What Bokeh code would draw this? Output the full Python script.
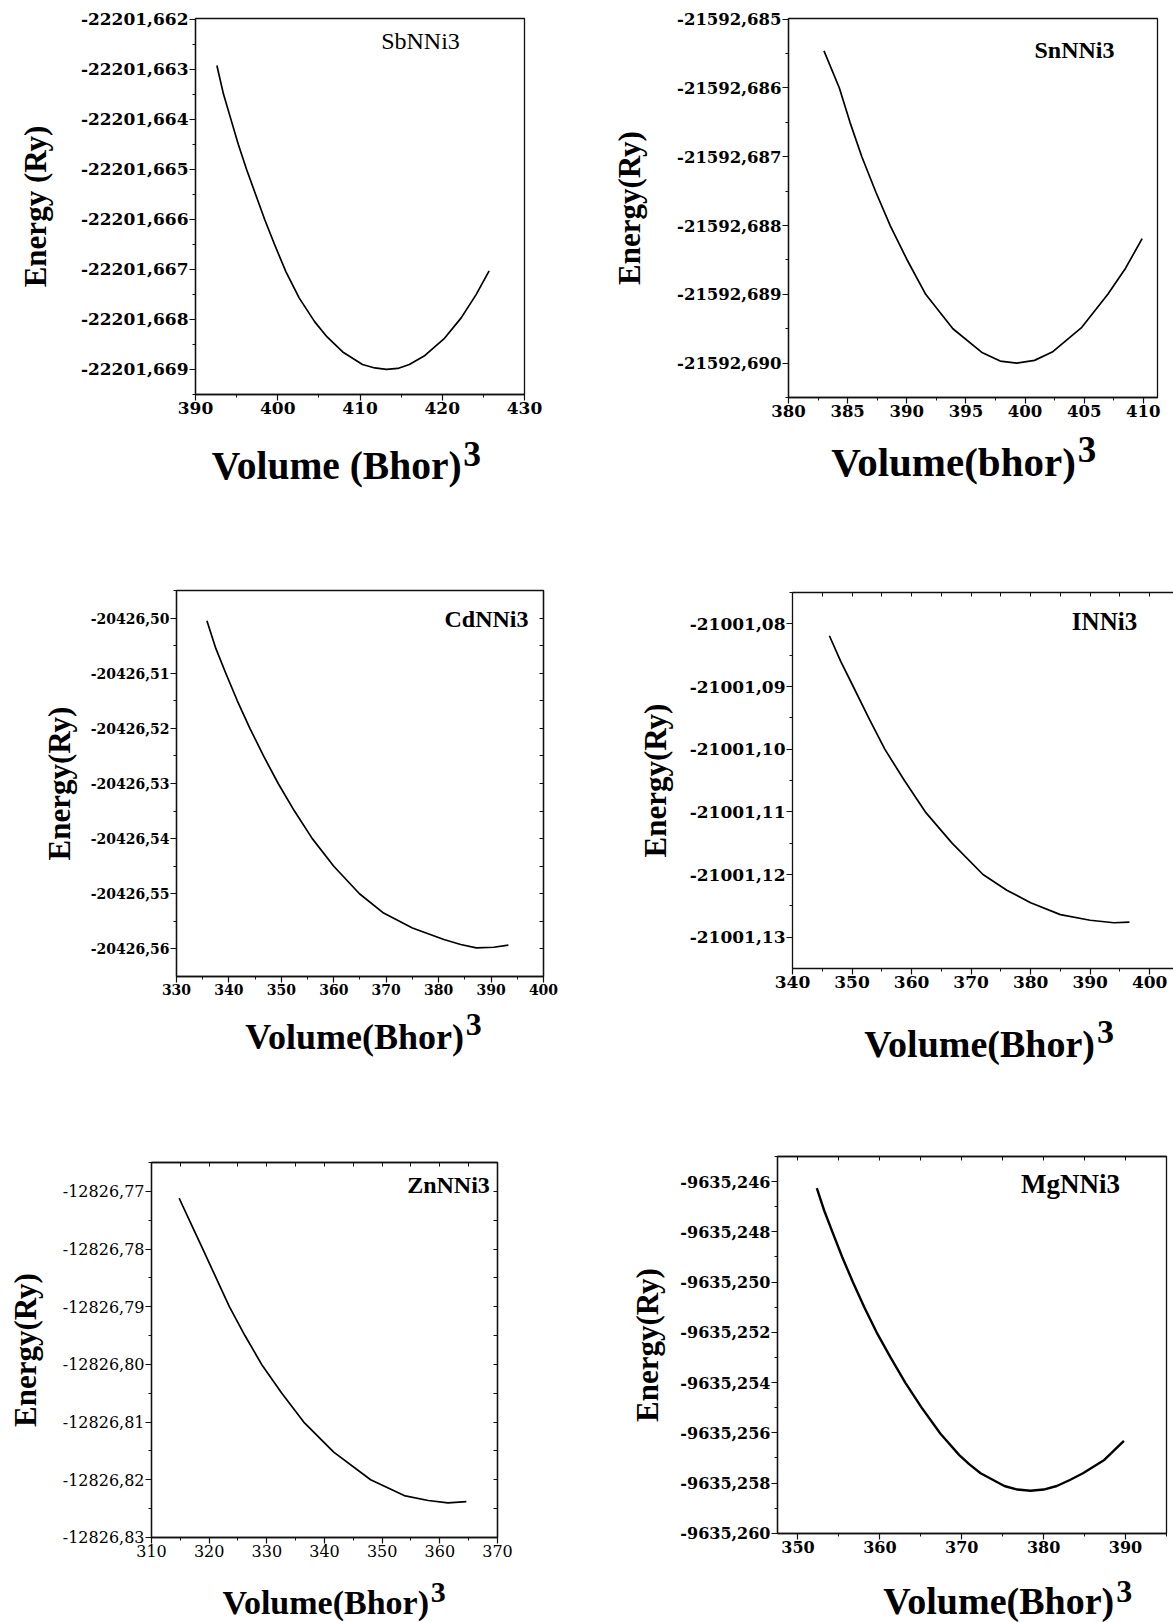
import math
from bokeh.plotting import figure
from bokeh.layouts import column, row
from bokeh.models import (SingleIntervalTicker, LinearAxis, Label, Range1d,
                          CustomJSTickFormatter)
from bokeh.embed import file_html
from bokeh.resources import INLINE

# ---------------- data ----------------
sb_volume = [392.6, 393.4, 394.3, 395.2, 396.2, 397.3, 398.4, 399.6, 401.0, 402.6,
             404.5, 406.0, 407.9, 410.3, 411.8, 413.2, 414.6, 416.0, 417.9, 420.2,
             422.3, 424.1, 425.7]
sb_energy = [-22201.66293, -22201.66350, -22201.66400, -22201.66450, -22201.66500,
             -22201.66550, -22201.66600, -22201.66650, -22201.66705, -22201.66757,
             -22201.66805, -22201.66835, -22201.66865, -22201.66890, -22201.66897,
             -22201.66900, -22201.66898, -22201.66890, -22201.66872, -22201.66839,
             -22201.66797, -22201.66751, -22201.66703]

sn_volume = [383.0, 384.3, 385.2, 386.2, 387.4, 388.6, 390.0, 391.6, 393.9, 396.4,
             397.9, 399.3, 400.8, 402.3, 404.8, 407.0, 408.5, 409.9]
sn_energy = [-21592.68546, -21592.68600, -21592.68650, -21592.68700, -21592.68752,
             -21592.68800, -21592.68849, -21592.68900, -21592.68950, -21592.68985,
             -21592.68997, -21592.69000, -21592.68996, -21592.68984, -21592.68948,
             -21592.68900, -21592.68862, -21592.68819]

cd_volume = [335.8, 337.5, 339.4, 341.6, 344.0, 346.6, 349.4, 352.5, 355.9, 360.0,
             364.9, 369.5, 375.0, 381.0, 384.2, 387.2, 390.5, 393.3]
cd_energy = [-20426.5005, -20426.5055, -20426.5100, -20426.5150, -20426.5200,
             -20426.5250, -20426.5300, -20426.5350, -20426.5400, -20426.5450,
             -20426.5500, -20426.5535, -20426.5562, -20426.5583, -20426.5592,
             -20426.5598, -20426.5597, -20426.5593]

i_volume = [346.2, 348.1, 350.2, 352.8, 355.5, 358.8, 362.3, 366.8, 372.0, 376.0,
            380.0, 385.0, 390.0, 394.0, 396.6]
i_energy = [-21001.0819, -21001.0860, -21001.0900, -21001.0950, -21001.1000,
            -21001.1050, -21001.1100, -21001.1150, -21001.1200, -21001.1225,
            -21001.1245, -21001.1264, -21001.1273, -21001.1277, -21001.1276]

zn_volume = [314.8, 316.8, 318.9, 321.2, 323.5, 326.2, 329.1, 332.6, 336.4, 341.6,
             348.0, 354.0, 358.0, 361.4, 364.6]
zn_energy = [-12826.7712, -12826.7755, -12826.7800, -12826.7850, -12826.7900,
             -12826.7950, -12826.8000, -12826.8050, -12826.8100, -12826.8152,
             -12826.8200, -12826.8228, -12826.8236, -12826.8240, -12826.8238]

mg_volume = [352.3, 353.2, 354.2, 355.4, 356.7, 358.1, 359.6, 361.3, 363.1, 365.1,
             367.4, 369.7, 370.9, 372.3, 375.2, 376.8, 378.4, 380.0, 381.6, 383.2,
             384.8, 387.4, 389.8]
mg_energy = [-9635.24626, -9635.24715, -9635.24800, -9635.24900, -9635.25000,
             -9635.25100, -9635.25200, -9635.25300, -9635.25400, -9635.25500,
             -9635.25604, -9635.25689, -9635.25725, -9635.25761, -9635.25812,
             -9635.25826, -9635.25831, -9635.25826, -9635.25812, -9635.25788,
             -9635.25761, -9635.25708, -9635.25632]

compounds = ["SbNNi3", "SnNNi3", "CdNNi3", "INNi3", "ZnNNi3", "MgNNi3"]
x_titles = ["Volume (Bhor)", "Volume(bhor)", "Volume(Bhor)", "Volume(Bhor)",
            "Volume(Bhor)", "Volume(Bhor)"]
y_titles = ["Energy (Ry)", "Energy(Ry)", "Energy(Ry)", "Energy(Ry)",
            "Energy(Ry)", "Energy(Ry)"]

TICK_FONT = "DejaVu Serif"
TITLE_FONT = "Liberation Serif"
INK = "#111111"


def style_axis(ax, weight, size):
    ax.axis_line_color = INK
    ax.axis_line_width = 1.3
    ax.major_tick_line_color = INK
    ax.minor_tick_line_color = INK
    ax.major_tick_line_width = 1.2
    ax.minor_tick_line_width = 1.0
    ax.major_tick_out = 6
    ax.major_tick_in = 0
    ax.minor_tick_out = 3
    ax.minor_tick_in = 0
    ax.major_label_text_font = TICK_FONT
    ax.major_label_text_font_style = weight
    ax.major_label_text_font_size = f"{size}px"
    ax.major_label_text_color = "black"
    ax.major_label_standoff = 1


def make_panel(cfg):
    fx0, fy0, fx1, fy1 = cfg["frame"]          # frame box in canvas px
    cx0, cy0, cx1, cy1 = cfg["cell"]           # panel-figure box in canvas px
    xr0, xr1 = cfg["xr"]
    yr0, yr1 = cfg["yr"]
    fw, fh = fx1 - fx0, fy1 - fy0
    p = figure(width=cx1 - cx0, height=cy1 - cy0, title=None,
               min_border_left=fx0 - cx0, min_border_right=cx1 - fx1,
               min_border_top=fy0 - cy0, min_border_bottom=cy1 - fy1,
               x_range=Range1d(xr0, xr1), y_range=Range1d(yr0, yr1),
               output_backend="svg", toolbar_location=None)
    p.grid.visible = False
    p.background_fill_color = "white"
    p.border_fill_color = "white"
    if cfg.get("outline", True):
        p.outline_line_color = INK
        p.outline_line_width = 1.3
    else:
        p.outline_line_color = None

    weight = cfg.get("tick_weight", "bold")
    xa, ya = p.xaxis[0], p.yaxis[0]
    style_axis(xa, weight, cfg["tsize"])
    style_axis(ya, weight, cfg["tsize"])
    xa.ticker = SingleIntervalTicker(interval=cfg["xi"], num_minor_ticks=2)
    ya.ticker = SingleIntervalTicker(interval=cfg["yi"], num_minor_ticks=2)
    xa.formatter = CustomJSTickFormatter(code="return tick.toFixed(0);")
    ya.formatter = CustomJSTickFormatter(
        args=dict(d=cfg["yd"]), code="return tick.toFixed(d).replace('.', ',');")
    # rotated y title
    ya.axis_label = cfg["yt"]
    ya.axis_label_text_font = TITLE_FONT
    ya.axis_label_text_font_style = "bold"
    ya.axis_label_text_font_size = "31px"
    ya.axis_label_text_color = "black"
    ya.axis_label_standoff = cfg["ys"]

    # small ticks on the opposite sides
    for side in cfg.get("extra", []):
        iv = cfg["xi"] / 2 if side == "above" else cfg["yi"] / 2
        ax = LinearAxis(ticker=SingleIntervalTicker(interval=iv, num_minor_ticks=1),
                        formatter=CustomJSTickFormatter(code="return '';"))
        ax.axis_line_color = INK
        ax.axis_line_width = 1.3
        ax.major_tick_line_color = INK
        ax.major_tick_out = 0
        ax.major_tick_in = 4
        ax.minor_tick_line_color = None
        ax.major_label_text_font_size = "1px"
        ax.major_label_standoff = 0
        p.add_layout(ax, side)

    p.line(cfg["x"], cfg["y"], line_color="black", line_width=cfg.get("lw", 1.7),
           line_join="round")

    def dx(px):
        return xr0 + (px - fx0) / fw * (xr1 - xr0)

    def dy(py):
        return yr1 - (py - fy0) / fh * (yr1 - yr0)

    nx, ny, nsize = cfg["name_pos"]
    p.add_layout(Label(x=dx(nx), y=dy(ny), text=cfg["name"], text_font=TITLE_FONT,
                       text_font_style=cfg.get("name_style", "bold"),
                       text_font_size=f"{nsize}px", text_align="center",
                       text_baseline="middle", text_color="black"))
    return p


def make_title(cfg):
    # strip below a panel that carries the x-axis title "Volume(...)" + raised 3
    cx0, cy0, cx1, cy1 = cfg["tcell"]
    t = figure(width=cx1 - cx0, height=cy1 - cy0, title=None,
               x_range=Range1d(cx0, cx1), y_range=Range1d(cy1, cy0),
               min_border=0, min_border_left=0, min_border_right=0,
               min_border_top=0, min_border_bottom=0,
               output_backend="svg", toolbar_location=None,
               x_axis_location=None, y_axis_location=None)
    t.grid.visible = False
    t.outline_line_color = None
    t.background_fill_color = "white"
    t.border_fill_color = "white"
    tx, tbase, tsize = cfg["xt_pos"]
    rise, ssize = cfg.get("sup", (12, tsize - 4))
    t.add_layout(Label(x=tx, y=tbase, text=cfg["xt"], text_font=TITLE_FONT,
                       text_font_style="bold", text_font_size=f"{tsize}px",
                       text_align="right", text_baseline="alphabetic",
                       text_color="black"))
    t.add_layout(Label(x=tx + 3, y=tbase - rise, text="3", text_font=TITLE_FONT,
                       text_font_style="bold", text_font_size=f"{ssize}px",
                       text_align="left", text_baseline="alphabetic",
                       text_color="black"))
    return t


panels = [
    dict(cell=(0, 0, 586, 424), tcell=(0, 424, 586, 520),
         frame=(195, 18, 524, 394), xr=(390, 430),
         yr=(-22201.6695, -22201.66199), xi=10, yi=0.001, yd=3, tsize=17,
         x=sb_volume, y=sb_energy, name=compounds[0], name_style="normal",
         name_pos=(420, 40, 24), xt=x_titles[0], xt_pos=(474, 465, 39.5),
         yt=y_titles[0], ys=25),
    dict(cell=(586, 0, 1173, 424), tcell=(586, 424, 1173, 520),
         frame=(788, 18, 1157, 397), xr=(380, 411.2),
         yr=(-21592.6905, -21592.68499), xi=5, yi=0.001, yd=3, tsize=16.5,
         x=sn_volume, y=sn_energy, name=compounds[1],
         name_pos=(1074, 49, 24), xt=x_titles[1], xt_pos=(1043, 461, 41),
         yt=y_titles[1], ys=27),
    dict(cell=(0, 520, 586, 1003), tcell=(0, 1003, 586, 1100),
         frame=(176, 590, 543, 976), xr=(330, 400.001),
         yr=(-20426.565, -20426.495), xi=10, yi=0.01, yd=2, tsize=14,
         x=cd_volume, y=cd_energy, name=compounds[2],
         name_pos=(486, 618, 24), xt=x_titles[2], xt_pos=(459, 1036, 36),
         yt=y_titles[2], ys=11, extra=["right"]),
    dict(cell=(586, 520, 1173, 1003), tcell=(586, 1003, 1173, 1100),
         frame=(792, 592, 1173, 968), xr=(340, 404.0),
         yr=(-21001.135, -21001.075), xi=10, yi=0.01, yd=2, tsize=17,
         x=i_volume, y=i_energy, name=compounds[3], outline=False,
         name_pos=(1104, 621, 25), xt=x_titles[3], xt_pos=(1052, 1043, 38),
         yt=y_titles[3], ys=14, extra=["above"]),
    dict(cell=(0, 1100, 586, 1563), tcell=(0, 1563, 586, 1622),
         frame=(151, 1162, 497, 1537), xr=(310, 370.001),
         yr=(-12826.83001, -12826.765), xi=10, yi=0.01, yd=2, tsize=16,
         tick_weight="normal",
         x=zn_volume, y=zn_energy, name=compounds[4],
         name_pos=(448, 1184, 24), xt=x_titles[4], xt_pos=(470, 1602, 34),
         sup=(10, 30), yt=y_titles[4], ys=17, extra=["right", "above"]),
    dict(cell=(586, 1100, 1173, 1563), tcell=(586, 1563, 1173, 1622),
         frame=(777, 1156, 1166, 1533), xr=(347.5, 395),
         yr=(-9635.26001, -9635.245), xi=10, yi=0.002, yd=3, tsize=16, lw=2.4,
         x=mg_volume, y=mg_energy, name=compounds[5],
         name_pos=(1070, 1183, 27), xt=x_titles[5], xt_pos=(1094, 1600, 38),
         sup=(9, 32), yt=y_titles[5], ys=12, extra=["above"]),
]

cells = []
for cfg in panels:
    cells.append(column(make_panel(cfg), make_title(cfg)))

layout = column(row(cells[0], cells[1]), row(cells[2], cells[3]), row(cells[4], cells[5]))

open("out.html", "w").write(file_html(layout, INLINE))
